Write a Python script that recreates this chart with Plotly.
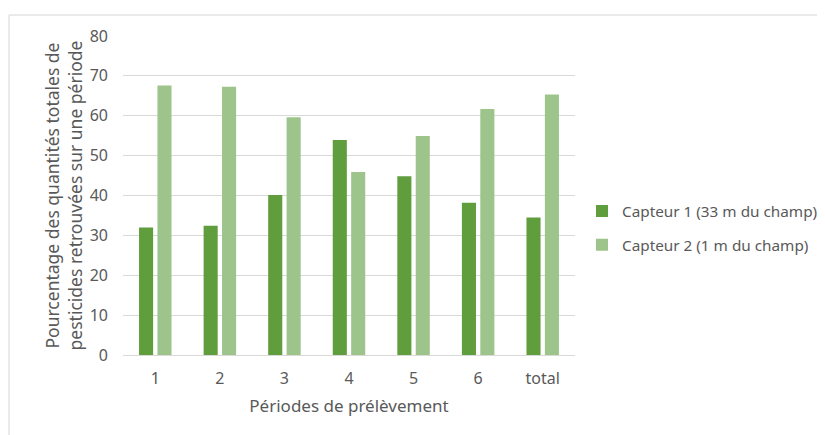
import plotly.graph_objects as go

categories = ["1", "2", "3", "4", "5", "6", "total"]
capteur1 = [32.0, 32.4, 40.1, 53.9, 44.8, 38.2, 34.5]
capteur2 = [67.6, 67.3, 59.6, 45.9, 54.9, 61.7, 65.3]
series_names = ["Capteur 1 (33 m du champ)", "Capteur 2 (1 m du champ)"]
y_ticks = [0, 10, 20, 30, 40, 50, 60, 70, 80]

FONT = "Noto Sans"
GRAY = "#595959"

OFF = 8  # page body margin
W, H = 825 - OFF, 435 - OFF
# plot area in page pixels: x 123..575, y 36..355
L, R, T, B = 123 - OFF, 825 - 575, 36 - OFF, 435 - 355
PW, PH = W - L - R, H - T - B


def px(xpage):
    return (xpage - OFF - L) / PW


def py(ypage):
    return (H - B - (ypage - OFF)) / PH


fig = go.Figure()
fig.add_trace(go.Bar(x=categories, y=capteur1, name=series_names[0], legendgroup="a",
                     marker=dict(color="#609D3C", line=dict(width=0))))
fig.add_trace(go.Bar(x=categories, y=capteur2, name=series_names[1], legendgroup="b",
                     marker=dict(color="#9DC48B", line=dict(width=0))))

border = dict(color="#e3e3e3", width=1.5)
fig.update_layout(
    width=W, height=H,
    margin=dict(l=L, r=R, t=T, b=B, autoexpand=False),
    paper_bgcolor="white", plot_bgcolor="white",
    barmode="group", bargap=0.43, bargroupgap=0.235,
    font=dict(family=FONT, color=GRAY, size=15),
    legend=dict(x=px(582), y=py(228), xanchor="left", yanchor="middle",
                font=dict(size=15.3, color=GRAY), itemwidth=30,
                tracegroupgap=11, bgcolor="rgba(0,0,0,0)"),
    xaxis=dict(showgrid=False, showline=True, linecolor="#d9d9d9", linewidth=1,
               ticks="", automargin=False, ticklabelstandoff=9,
               tickfont=dict(size=16, color=GRAY),
               title=dict(text="Périodes de prélèvement", font=dict(size=17, color=GRAY),
                          standoff=11)),
    yaxis=dict(range=[0, 80], tickvals=y_ticks, showgrid=True, gridcolor="#d9d9d9",
               gridwidth=1, zeroline=False, showline=False, ticks="", automargin=False,
               tickfont=dict(size=16, color=GRAY), ticklabelstandoff=14,
               title=dict(text="Pourcentage des quantités totales de<br>pesticides retrouvées sur une période",
                          font=dict(size=17.5, color=GRAY), standoff=2)),
    shapes=[
        dict(type="line", xref="paper", yref="paper",
             x0=px(9), x1=px(900), y0=py(15), y1=py(15), line=border, layer="below"),
        dict(type="line", xref="paper", yref="paper",
             x0=px(9), x1=px(9), y0=py(15), y1=py(500), line=border, layer="below"),
    ],
)

fig.write_html("out.html")
